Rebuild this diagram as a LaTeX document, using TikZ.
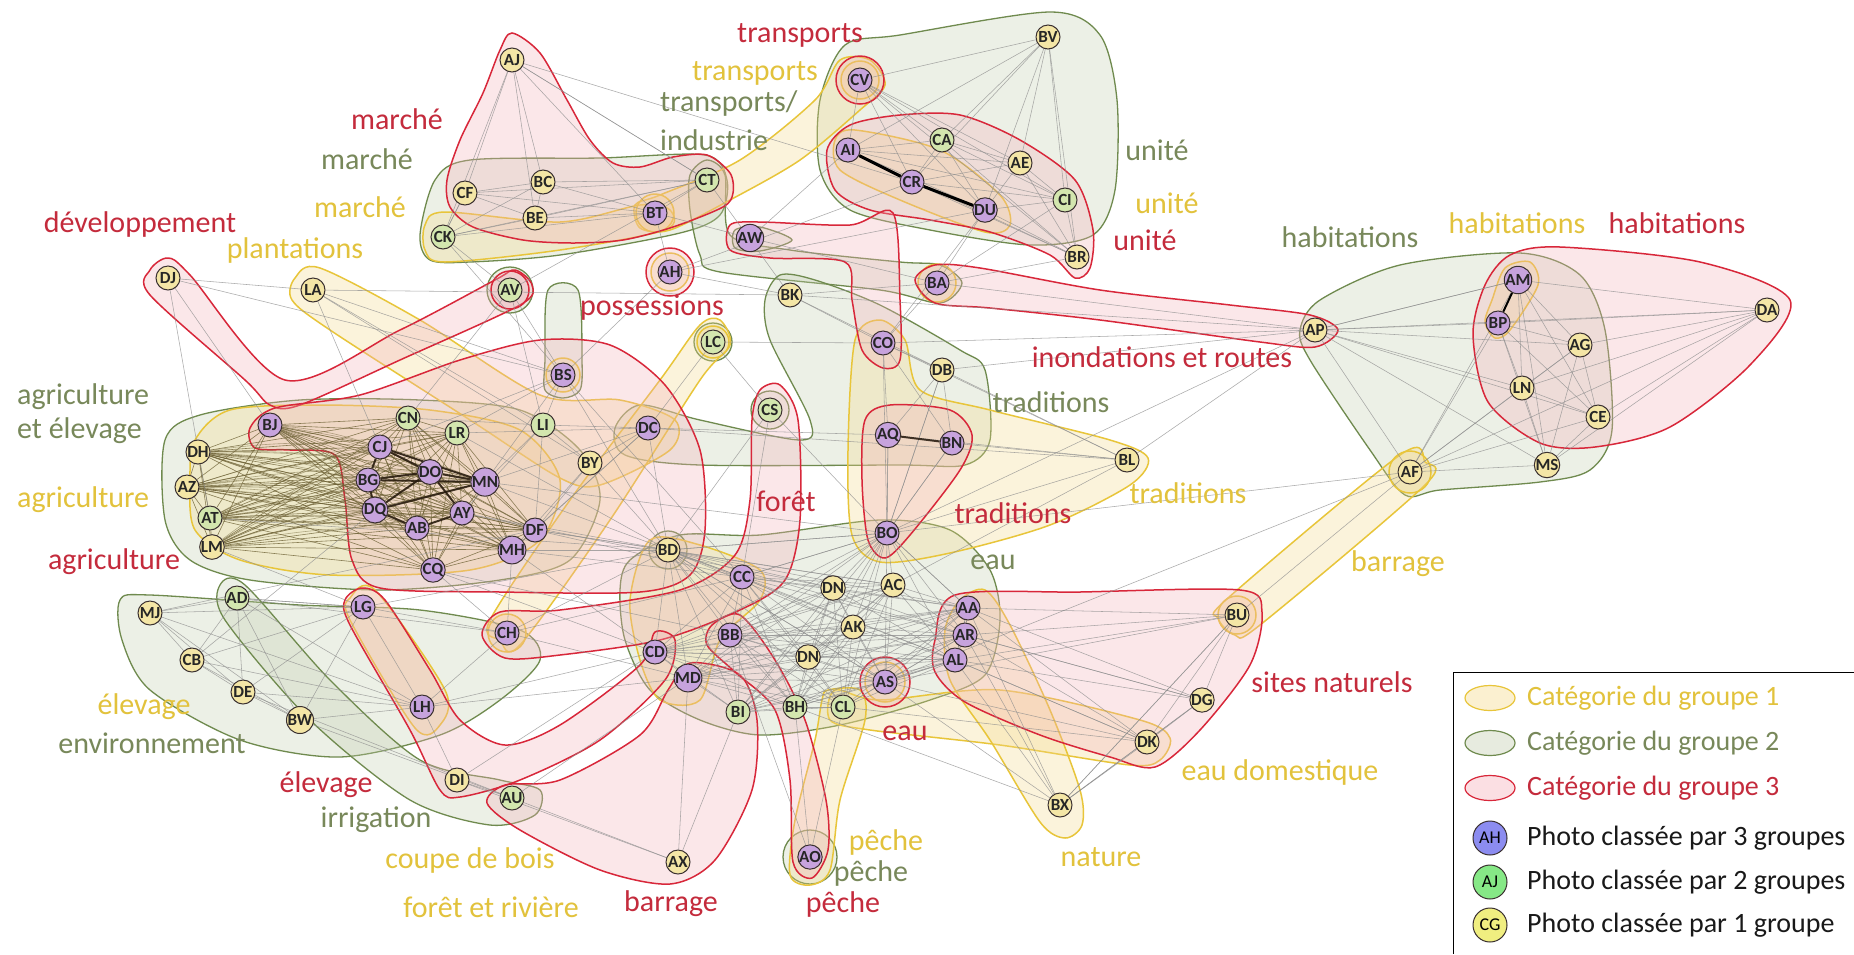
\documentclass[tikz,border=0pt]{standalone}
\usepackage{fontspec}
\setmainfont{Carlito}
\usetikzlibrary{shapes.geometric}
\pgfdeclarelayer{hulls}
\pgfdeclarelayer{edges}
\pgfsetlayers{hulls,edges,main}
\definecolor{hullred}{HTML}{D8273A}
\definecolor{fillred}{HTML}{F4B0B8}
\definecolor{hullgreen}{HTML}{6F8A4E}
\definecolor{fillgreen}{HTML}{C3CEAE}
\definecolor{hullyellow}{HTML}{E8C53A}
\definecolor{fillyellow}{HTML}{F5D98A}
\definecolor{nodepurple}{HTML}{C7A3DD}
\definecolor{nodegreen}{HTML}{D3E6AE}
\definecolor{nodeyellow}{HTML}{F4E6A6}
\definecolor{nodeline}{HTML}{3A3030}
\definecolor{edgegrey}{HTML}{8E8E8E}
\definecolor{edgeolive}{HTML}{6E6236}
\definecolor{textred}{HTML}{C42B3C}
\definecolor{textgreen}{HTML}{78885A}
\definecolor{textyellow}{HTML}{E2C23C}
\definecolor{legpurple}{HTML}{8C8CF0}
\definecolor{leggreen}{HTML}{86E886}
\definecolor{legyellow}{HTML}{F0EE80}
\newcommand\lblfont{\fontsize{30}{32}\selectfont}
\newcommand\lgfont{\fontsize{28}{30}\selectfont}
\newcommand\ndfont{\fontsize{17}{17}\selectfont\bfseries}
\newcommand\clq[2]{%
  \foreach \u [count=\i] in {#2}{%
    \foreach \v [count=\j] in {#2}{%
      \ifnum\j>\i \draw[#1] (\u) -- (\v);\fi}}}
\tikzset{
  hR/.style={draw=hullred, fill=fillred, fill opacity=0.3, line width=1.5pt},
  hG/.style={draw=hullgreen, fill=fillgreen, fill opacity=0.3, line width=1.3pt},
  hY/.style={draw=hullyellow, fill=fillyellow, fill opacity=0.3, line width=1.5pt},
  ph/.style={circle, draw=nodeline, line width=1pt, minimum size=24pt, inner sep=0pt, font=\ndfont, text=black!85},
  pp/.style={ph, fill=nodepurple},
  pg/.style={ph, fill=nodegreen},
  py/.style={ph, fill=nodeyellow},
  eg/.style={draw=edgegrey, line width=0.55pt, opacity=0.75},
  egA/.style={draw=edgeolive, line width=0.6pt, opacity=0.8},
  egT/.style={draw=black, line width=3pt},
  egB/.style={draw=black!80!brown, line width=2pt, opacity=0.85},
  lR/.style={text=textred, font=\lblfont, inner sep=0pt},
  lG/.style={text=textgreen, font=\lblfont, inner sep=0pt},
  lY/.style={text=textyellow, font=\lblfont, inner sep=0pt},
}
\begin{document}
\begin{tikzpicture}[x=1pt,y=-1pt]
\useasboundingbox (0,0) rectangle (1854,954);
% ---------------- nodes ----------------
\node[py] (AJ) at (512,60) {AJ};
\node[py] (CF) at (465,193) {CF};
\node[py] (BC) at (543,182) {BC};
\node[py] (BE) at (535,218) {BE};
\node[pp] (BT) at (655,213) {BT};
\node[pg] (CT) at (707,180) {CT};
\node[pg] (CK) at (443,237) {CK};
\node[pp] (CV) at (860,80) {CV};
\node[pp] (AI) at (848,150) {AI};
\node[pp] (CR) at (912,182) {CR};
\node[pp] (DU) at (985,210) {DU};
\node[pg] (CA) at (942,140) {CA};
\node[py] (AE) at (1020,163) {AE};
\node[pg] (CI) at (1065,200) {CI};
\node[py] (BR) at (1077,257) {BR};
\node[py] (BV) at (1048,37) {BV};
\node[pp] (AW) at (750,238) {AW};
\node[pp] (AH) at (670,272) {AH};
\node[pg] (AV) at (510,290) {AV};
\node[py] (BK) at (790,295) {BK};
\node[pp] (BA) at (937,283) {BA};
\node[py] (DJ) at (168,278) {DJ};
\node[py] (LA) at (313,290) {LA};
\node[py] (AP) at (1315,330) {AP};
\node[pp] (AM) at (1518,280) {AM};
\node[pp] (BP) at (1498,323) {BP};
\node[py] (AG) at (1580,345) {AG};
\node[py] (LN) at (1522,388) {LN};
\node[py] (CE) at (1598,417) {CE};
\node[py] (MS) at (1547,465) {MS};
\node[py] (DA) at (1767,310) {DA};
\node[py] (AF) at (1410,472) {AF};
\node[pp] (BS) at (563,375) {BS};
\node[pg] (LC) at (713,342) {LC};
\node[pg] (LI) at (543,425) {LI};
\node[pp] (DC) at (648,428) {DC};
\node[py] (BY) at (590,463) {BY};
\node[pg] (CS) at (770,410) {CS};
\node[pp] (CO) at (883,343) {CO};
\node[py] (DB) at (942,370) {DB};
\node[pp] (AQ) at (888,435) {AQ};
\node[pp] (BN) at (952,443) {BN};
\node[py] (BL) at (1127,460) {BL};
\node[pp] (BO) at (887,533) {BO};
\node[pp] (BJ) at (270,425) {BJ};
\node[pg] (CN) at (408,418) {CN};
\node[pg] (LR) at (457,433) {LR};
\node[py] (DH) at (198,452) {DH};
\node[pp] (CJ) at (380,447) {CJ};
\node[pp] (DO) at (430,472) {DO};
\node[pp] (BG) at (368,480) {BG};
\node[py] (AZ) at (187,487) {AZ};
\node[pg] (AT) at (210,518) {AT};
\node[pp] (DQ) at (375,510) {DQ};
\node[pp] (AY) at (462,513) {AY};
\node[pp] (AB) at (417,528) {AB};
\node[pp] (MN) at (485,482) {MN};
\node[pp] (DF) at (535,530) {DF};
\node[pp] (MH) at (512,550) {MH};
\node[py] (LM) at (212,547) {LM};
\node[pp] (CQ) at (433,570) {CQ};
\node[pg] (AD) at (237,598) {AD};
\node[pp] (LG) at (363,607) {LG};
\node[py] (MJ) at (150,613) {MJ};
\node[py] (CB) at (192,660) {CB};
\node[py] (DE) at (243,692) {DE};
\node[py] (BW) at (300,720) {BW};
\node[pp] (LH) at (422,707) {LH};
\node[py] (DI) at (457,780) {DI};
\node[pg] (AU) at (512,798) {AU};
\node[py] (BD) at (668,550) {BD};
\node[pp] (CC) at (742,577) {CC};
\node[py] (DNa) at (833,588) {DN};
\node[py] (AC) at (893,585) {AC};
\node[py] (AK) at (853,627) {AK};
\node[py] (DNb) at (808,657) {DN};
\node[pp] (CH) at (507,633) {CH};
\node[pp] (CD) at (655,652) {CD};
\node[pp] (BB) at (730,635) {BB};
\node[pp] (MD) at (688,678) {MD};
\node[pg] (BI) at (738,712) {BI};
\node[pg] (BH) at (795,707) {BH};
\node[pg] (CL) at (843,707) {CL};
\node[pp] (AS) at (885,682) {AS};
\node[py] (AX) at (678,862) {AX};
\node[pp] (AO) at (810,857) {AO};
\node[pp] (AA) at (968,608) {AA};
\node[pp] (AR) at (965,635) {AR};
\node[pp] (AL) at (955,660) {AL};
\node[py] (BU) at (1237,615) {BU};
\node[py] (DG) at (1202,700) {DG};
\node[py] (DK) at (1147,742) {DK};
\node[py] (BX) at (1060,805) {BX};
% ---------------- labels ----------------
\node[lR] (t1) at (800,35) {transports};
\node[lY] (t2) at (755,73) {transports};
\node[lG, anchor=west] (t3) at (660,103) {transports/};
\node[lG, anchor=west] (t4) at (660,140) {industrie};
\node[lR] (t5) at (397,119) {marché};
\node[lG] (t6) at (367,159) {marché};
\node[lY] (t7) at (360,207) {marché};
\node[lR] (t8) at (140,224) {développement};
\node[lY] (t9) at (295,250) {plantations};
\node[lG] (t10) at (1157,150) {unité};
\node[lY] (t11) at (1167,203) {unité};
\node[lR] (t12) at (1145,240) {unité};
\node[lG] (t13) at (1350,237) {habitations};
\node[lY] (t14) at (1517,223) {habitations};
\node[lR] (t15) at (1677,223) {habitations};
\node[lR] (t16) at (652,308) {possessions};
\node[lR] (t17) at (1162,357) {inondations et routes};
\node[lG] (t18) at (1051,402) {traditions};
\node[lY] (t19) at (1188,493) {traditions};
\node[lR] (t20) at (1013,513) {traditions};
\node[lG] (t21) at (993,562) {eau};
\node[lR] (t22) at (786,501) {forêt};
\node[lG, anchor=west] (t23) at (17,397) {agriculture};
\node[lG, anchor=west] (t24) at (17,431) {et élevage};
\node[lY, anchor=west] (t25) at (17,500) {agriculture};
\node[lR] (t26) at (114,562) {agriculture};
\node[lY] (t27) at (144,707) {élevage};
\node[lG] (t28) at (152,743) {environnement};
\node[lR] (t29) at (326,785) {élevage};
\node[lG] (t30) at (376,820) {irrigation};
\node[lY] (t31) at (470,860) {coupe de bois};
\node[lY] (t32) at (491,907) {forêt et rivière};
\node[lR] (t33) at (671,904) {barrage};
\node[lY] (t34) at (886,842) {pêche};
\node[lG] (t35) at (871,873) {pêche};
\node[lR] (t36) at (843,904) {pêche};
\node[lR] (t37) at (905,733) {eau};
\node[lR] (t38) at (1332,682) {sites naturels};
\node[lY] (t39) at (1280,772) {eau domestique};
\node[lY] (t40) at (1101,857) {nature};
\node[lY] (t41) at (1398,564) {barrage};
% ---------------- legend ----------------
\fill[white] (1453,672) rectangle (1854,954);
\draw[black, line width=1pt] (1854,672) -- (1453,672) -- (1453,954);
\node[ellipse, draw=hullyellow, fill=fillyellow!40, line width=1.2pt, minimum width=50pt, minimum height=25pt] (L1) at (1490,698) {};
\node[ellipse, draw=hullgreen, fill=fillgreen!40, line width=1.2pt, minimum width=50pt, minimum height=25pt] (L2) at (1490,743) {};
\node[ellipse, draw=hullred, fill=fillred!40, line width=1.2pt, minimum width=50pt, minimum height=25pt] (L3) at (1490,788) {};
\node[anchor=west, text=textyellow, font=\lgfont, inner sep=0pt] (L1t) at (1527,698) {Catégorie du groupe 1};
\node[anchor=west, text=textgreen, font=\lgfont, inner sep=0pt] (L2t) at (1527,743) {Catégorie du groupe 2};
\node[anchor=west, text=textred, font=\lgfont, inner sep=0pt] (L3t) at (1527,788) {Catégorie du groupe 3};
\node[circle, draw=nodeline, fill=legpurple, line width=1pt, minimum size=34pt, inner sep=0pt, font=\fontsize{18}{18}\selectfont] (L4) at (1490,838) {AH};
\node[circle, draw=nodeline, fill=leggreen, line width=1pt, minimum size=34pt, inner sep=0pt, font=\fontsize{18}{18}\selectfont] (L5) at (1490,882) {AJ};
\node[circle, draw=nodeline, fill=legyellow, line width=1pt, minimum size=34pt, inner sep=0pt, font=\fontsize{18}{18}\selectfont] (L6) at (1490,925) {CG};
\node[anchor=west, text=black!90, font=\lgfont, inner sep=0pt] (L4t) at (1527,838) {Photo classée par 3 groupes};
\node[anchor=west, text=black!90, font=\lgfont, inner sep=0pt] (L5t) at (1527,882) {Photo classée par 2 groupes};
\node[anchor=west, text=black!90, font=\lgfont, inner sep=0pt] (L6t) at (1527,925) {Photo classée par 1 groupe};
% ---------------- hulls ----------------
\begin{pgfonlayer}{hulls}
\fill[white] (0,0) rectangle (1854,954);
% green
\draw[hG] plot[smooth cycle] coordinates {(420,235) (435,180) (470,160) (600,158) (705,155) (727,180) (720,215) (680,233) (560,255) (470,262) (430,260)};
\draw[hG] plot[smooth cycle] coordinates {(820,100) (845,45) (900,35) (1050,12) (1100,35) (1117,100) (1115,190) (1093,235) (1030,245) (930,230) (850,210) (820,170)};
\draw[hG] plot[smooth cycle] coordinates {(690,175) (707,160) (725,175) (730,235) (790,250) (900,262) (940,265) (962,283) (940,303) (880,290) (720,272) (700,255) (690,210)};
\draw[hG] plot[smooth cycle] coordinates {(780,275) (815,280) (880,305) (960,350) (985,370) (990,440) (965,465) (900,465) (700,465) (625,455) (615,428) (640,405) (700,420) (800,440) (810,420) (770,340) (765,300)};
\draw[hG] plot[smooth cycle] coordinates {(165,440) (200,415) (300,400) (420,400) (520,410) (580,450) (600,500) (570,560) (500,580) (380,590) (250,580) (190,560) (165,520)};
\draw[hG] plot[smooth cycle] coordinates {(120,600) (150,595) (300,605) (420,610) (520,630) (540,660) (500,700) (440,735) (340,757) (240,740) (150,690) (122,640)};
\draw[hG] plot[smooth cycle] coordinates {(220,585) (245,585) (330,680) (420,760) (500,780) (540,790) (535,815) (490,825) (410,800) (310,720) (225,620)};
\draw[hG] plot[smooth cycle] coordinates {(630,560) (680,535) (760,535) (880,520) (950,530) (990,570) (1000,620) (985,675) (930,700) (840,725) (760,735) (700,720) (650,690) (625,640) (620,590)};
\draw[hG] plot[smooth cycle] coordinates {(1300,330) (1320,300) (1400,265) (1520,253) (1580,275) (1605,330) (1612,430) (1590,470) (1540,482) (1440,490) (1405,495) (1370,450) (1310,360)};
\draw[hG] plot[smooth cycle] coordinates {(548,290) (578,290) (582,360) (580,390) (563,398) (545,390) (545,360)};
\draw[hG] plot[smooth cycle] coordinates {(735,230) (760,227) (792,240) (760,251) (735,248)};
\draw[hG] (AV) circle (23pt);
\draw[hG] (LC) circle (19pt);
\draw[hG] (CS) circle (19pt);
\draw[hG] (BD) circle (19pt);
\draw[hG] (AO) circle (27pt);
% yellow
\draw[hY] plot[smooth cycle] coordinates {(840,60) (870,60) (885,85) (860,110) (800,160) (730,200) (670,230) (640,228) (635,205) (660,195) (740,160) (815,100)};
\draw[hY] plot[smooth cycle] coordinates {(835,140) (855,130) (940,150) (1000,195) (1010,225) (985,232) (900,200) (840,170)};
\draw[hY] plot[smooth cycle] coordinates {(425,225) (445,212) (560,222) (640,205) (670,210) (665,230) (560,250) (445,262) (425,250)};
\draw[hY] plot[smooth cycle] coordinates {(295,278) (320,268) (420,320) (540,395) (620,400) (675,420) (670,450) (600,485) (560,478) (470,420) (330,330) (292,300)};
\draw[hY] plot[smooth cycle] coordinates {(195,440) (230,410) (320,405) (430,410) (520,430) (560,480) (540,540) (470,570) (330,575) (240,560) (195,530) (190,480)};
\draw[hY] plot[smooth cycle] coordinates {(350,598) (375,590) (445,690) (440,725) (415,728) (350,620)};
\draw[hY] plot[smooth cycle] coordinates {(490,620) (500,640) (520,645) (610,520) (700,380) (730,345) (720,320) (700,325) (660,380) (570,500)};
\draw[hY] plot[smooth cycle] coordinates {(650,540) (700,545) (760,570) (760,600) (720,640) (700,700) (660,700) (640,660) (630,600)};
\draw[hY] plot[smooth cycle] coordinates {(855,340) (880,320) (905,340) (920,390) (990,410) (1110,440) (1148,458) (1130,485) (1050,525) (950,553) (880,562) (852,535) (848,450)};
\draw[hY] plot[smooth cycle] coordinates {(1400,455) (1425,462) (1425,485) (1260,625) (1235,635) (1218,618) (1228,598)};
\draw[hY] plot[smooth cycle] coordinates {(835,690) (880,700) (1000,690) (1140,720) (1170,738) (1160,760) (1130,765) (1000,745) (870,730) (830,720)};
\draw[hY] plot[smooth cycle] coordinates {(960,600) (985,590) (1010,625) (1050,710) (1080,790) (1082,825) (1065,838) (1040,822) (990,740) (950,680) (945,630)};
\draw[hY] plot[smooth cycle] coordinates {(828,690) (860,690) (865,720) (840,800) (830,870) (810,885) (790,875) (795,820) (815,740) (822,700)};
\draw[hY] plot[smooth cycle] coordinates {(1505,268) (1530,262) (1538,285) (1510,330) (1495,338) (1485,322) (1492,300)};
\draw[hY] (CV) circle (19pt);
\draw[hY] (BT) circle (19pt);
\draw[hY] (AH) circle (19pt);
\draw[hY] (BS) circle (17pt);
\draw[hY] (LC) circle (16pt);
\draw[hY] (CH) circle (19pt);
\draw[hY] (BA) circle (19pt);
\draw[hY] (AS) circle (20pt);
\draw[hY] (BU) circle (19pt);
\draw[hY] (AF) circle (21pt);
% red
\draw[hR] plot[smooth cycle] coordinates {(512,33) (540,53) (567,100) (590,140) (613,163) (640,167) (673,157) (707,155) (730,173) (733,193) (723,207) (673,227) (623,240) (573,243) (523,240) (473,227) (450,207) (447,180) (460,140) (483,93) (500,50)};
\draw[hR] plot[smooth cycle] coordinates {(827,150) (850,125) (900,115) (960,115) (1020,140) (1075,180) (1093,230) (1090,268) (1075,278) (1050,255) (990,232) (930,220) (870,210) (835,190)};
\draw[hR] plot[smooth cycle] coordinates {(915,280) (935,265) (980,268) (1100,290) (1230,305) (1310,315) (1338,330) (1315,347) (1260,342) (1100,320) (990,308) (935,303)};
\draw[hR] plot[smooth cycle] coordinates {(150,270) (168,258) (190,275) (285,380) (400,330) (495,280) (515,270) (532,285) (520,305) (400,360) (300,405) (270,405) (245,380) (150,295)};
\draw[hR] plot[smooth cycle] coordinates {(250,428) (275,408) (360,395) (460,360) (540,340) (610,345) (665,385) (700,450) (705,530) (690,575) (640,592) (500,592) (380,588) (352,560) (345,500) (335,455) (290,450) (255,448)};
\draw[hR] plot[smooth cycle] coordinates {(760,390) (780,385) (798,420) (800,520) (785,580) (740,610) (660,640) (560,655) (505,658) (482,635) (500,612) (560,610) (680,590) (735,555) (750,500) (752,420)};
\draw[hR] plot[smooth cycle] coordinates {(362,588) (385,600) (430,670) (460,720) (505,745) (560,725) (640,665) (655,632) (675,640) (665,680) (600,740) (520,780) (460,797) (440,790) (410,730) (350,625) (345,600)};
\draw[hR] plot[smooth cycle] coordinates {(690,663) (740,675) (757,720) (752,790) (715,860) (670,884) (600,870) (520,830) (487,803) (505,785) (560,780) (640,735) (668,690)};
\draw[hR] plot[smooth cycle] coordinates {(712,625) (740,615) (775,660) (805,720) (826,800) (828,850) (812,878) (793,862) (790,780) (775,710) (735,672) (707,645)};
\draw[hR] plot[smooth cycle] coordinates {(935,640) (955,595) (1080,592) (1240,590) (1262,612) (1250,665) (1200,730) (1155,767) (1110,757) (1040,735) (965,702) (935,672)};
\draw[hR] plot[smooth cycle] coordinates {(865,420) (890,405) (950,410) (972,435) (960,470) (910,535) (885,558) (868,540) (862,480)};
\draw[hR] plot[smooth cycle] coordinates {(730,225) (760,222) (850,225) (893,213) (900,300) (900,360) (883,368) (862,350) (852,300) (845,262) (770,258) (730,250)};
\draw[hR] plot[smooth cycle] coordinates {(1485,285) (1510,255) (1560,247) (1700,262) (1790,300) (1750,365) (1670,427) (1595,447) (1540,443) (1488,402) (1473,335)};
\draw[hR] (CV) circle (24pt);
\draw[hR] (AH) circle (24pt);
\draw[hR] (AV) circle (19pt);
\draw[hR] (AS) circle (25pt);
\end{pgfonlayer}
% ---------------- edges ----------------
\begin{pgfonlayer}{edges}
\clq{egA}{DH,AZ,AT,LM,BJ,CN,LR,CJ,DO,BG,DQ,AY,AB,MN,DF,MH,CQ}
\foreach \a in {DH,AZ,AT,LM,BJ} {\foreach \b in {CJ,DO,BG,DQ,AB,MN,AY} {\draw[egA, opacity=0.5] (\a) to[bend left=6] (\b);}}
\clq{eg}{BD,CC,DNa,AC,AK,DNb,AS,AA,AR,AL,BB,CD,MD,BI,BH,CL,BO}
\clq{eg}{CV,AI,CR,DU,CA,AE,CI,BR,BV}
\clq{eg}{AP,AM,BP,AG,LN,CE,MS,AF,DA}
\clq{eg}{AJ,CF,BC,BE,BT,CT,CK}
\clq{eg}{AA,AR,AL,BU,DG,DK,BX}
\clq{eg}{CO,DB,AQ,BN,BO,BL}
\clq{eg}{MJ,CB,DE,BW,LG,LH,AD}
\foreach \a/\b in {DJ/LA,LA/BK,DJ/BJ,DJ/AT,LA/BS,LA/LI,LA/BY,AV/BS,CK/BS,CK/AV,AV/LI,DC/LI,DC/BY,LI/BY,DC/AQ,DC/BL,BD/BO,BA/AP,BU/AF,AU/AX,MD/AX,BI/AX,AU/DI,DI/LH,CD/DI,CH/BD,BB/AO,BH/AO,CL/AO,AS/BX,AJ/CR,AJ/CT,BK/CO,BK/AP,AW/AI,AH/CR,AH/DU,BA/CI,BA/BR,BK/DB,CS/BO,LC/CO,LC/DC,CS/CC,MN/DC,DF/BD,MH/BD,MH/CC,CQ/CD,CQ/BB,AY/DNa,DF/AC,MN/BO,BS/CC,LR/DC,CN/LI,BS/LI,CH/LG,CH/LH,CH/CC,LG/BD,LH/CD,BW/AU,DE/AU,MJ/DF,CB/DQ,AD/LG,AD/CH,AT/BD,LM/LG,CO/AP,DB/AP,BO/AP,AF/BO,AF/AS,BU/AS,AH/BK,AV/CT,CF/CK,BT/AW,CT/BK,BA/DU,BA/CO,CO/DU,AW/BA,BS/BD,DC/BD,LI/DF,BY/MH,CS/BD,LC/CS,DB/BO,DJ/BS,BK/BA,AH/BS,AH/BT,CC/BO,BD/AS,CH/MD,LH/MD,DI/AX,AU/MD,AC/BL,AQ/BO,BN/BO,AA/BO,AL/DK,AR/DG,AS/DK,CL/DK,BH/BX,AS/AL,AP/AM,BL/AP,BU/BX,DG/BX,LI/MN,LI/AY,BY/DF,DC/DF,DC/MH,BS/MN,BS/CJ,LA/CJ,AV/CN,LR/BS,CQ/CH,MH/CH,DF/CC,MH/CD,AY/BD,LR/BD,MN/CC,BY/BD} {\draw[eg] (\a) -- (\b);}
\draw[egT] (AI) -- (CR) -- (DU);
\draw[egT, line width=2pt] (AM) -- (BP);
\draw[egB] (AQ) -- (BN);
\foreach \a/\b in {CJ/DO,BG/DO,DQ/DO,DQ/AB,BG/DQ,CJ/MN,DO/MN,AB/AY,DO/AY,BG/MN,CJ/BG,DQ/MN} {\draw[egB] (\a) -- (\b);}
\end{pgfonlayer}
\end{tikzpicture}
\end{document}
